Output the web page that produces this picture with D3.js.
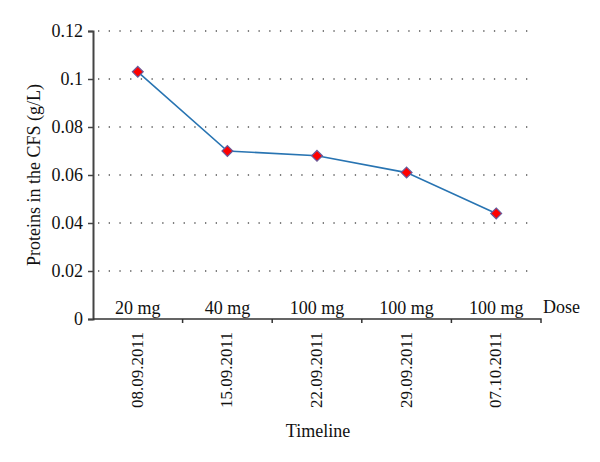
<!DOCTYPE html>
<html>
<head>
<meta charset="utf-8">
<script src="https://cdn.jsdelivr.net/npm/d3@7"></script>
<style>
  body { margin: 0; background: #fff; }
  text { font-family: "Liberation Serif", "DejaVu Serif", serif; fill: #111; }
</style>
</head>
<body>
<div id="chart"></div>
<script>
var dates = ["08.09.2011", "15.09.2011", "22.09.2011", "29.09.2011", "07.10.2011"];
var doses = ["20 mg", "40 mg", "100 mg", "100 mg", "100 mg"];
var proteins = [0.103, 0.070, 0.068, 0.061, 0.044];
var yTicks = [0, 0.02, 0.04, 0.06, 0.08, 0.1, 0.12];

var width = 600, height = 462;
var mLeft = 93, mRight = 541, mTop = 31, mBottom = 319;
var fs = 18;

var svg = d3.select("#chart").append("svg")
    .attr("width", width)
    .attr("height", height);

var x = d3.scaleBand()
    .domain(d3.range(dates.length))
    .range([mLeft, mRight]);

var y = d3.scaleLinear()
    .domain([0, 0.12])
    .range([mBottom, mTop]);

// dotted gridlines
svg.append("g")
  .selectAll("line")
  .data(yTicks.filter(d => d > 0))
  .enter().append("line")
    .attr("x1", mLeft)
    .attr("x2", 536)
    .attr("y1", d => y(d))
    .attr("y2", d => y(d))
    .attr("stroke", "#555")
    .attr("stroke-width", 1.3)
    .attr("stroke-dasharray", "1.3,9.4")
    .attr("stroke-dashoffset", -5);

// y axis
var yAxis = svg.append("g")
    .attr("transform", `translate(${mLeft},0)`)
    .call(d3.axisLeft(y).tickValues(yTicks).tickSize(5).tickPadding(5)
      .tickFormat(d => d === 0 ? "0" : String(+d.toFixed(2))));
yAxis.select(".domain").attr("stroke", "#444").attr("stroke-width", 2);
yAxis.selectAll(".tick line").attr("stroke", "#444").attr("stroke-width", 1.5);
yAxis.selectAll("text").attr("font-size", fs).attr("font-family", "Liberation Serif").attr("fill", "#111");

// x axis
svg.append("path")
    .attr("d", `M${mLeft},${mBottom}H${mRight}V${mBottom + 4}`)
    .attr("fill", "none")
    .attr("stroke", "#333")
    .attr("stroke-width", 1.5);
svg.append("g")
  .selectAll("line")
  .data(d3.range(1, dates.length))
  .enter().append("line")
    .attr("x1", d => x(d))
    .attr("x2", d => x(d))
    .attr("y1", mBottom)
    .attr("y2", mBottom + 4)
    .attr("stroke", "#333")
    .attr("stroke-width", 1.5);

// dose labels
svg.append("g")
  .selectAll("text")
  .data(doses)
  .enter().append("text")
    .attr("x", (d, i) => x(i) + x.bandwidth() / 2)
    .attr("y", mBottom - 5)
    .attr("text-anchor", "middle")
    .attr("font-size", fs)
    .text(d => d);

svg.append("text")
    .attr("x", mRight + 2)
    .attr("y", mBottom - 6)
    .attr("font-size", fs)
    .text("Dose");

// date labels
svg.append("g")
  .selectAll("text")
  .data(dates)
  .enter().append("text")
    .attr("transform", (d, i) => `translate(${x(i) + x.bandwidth() / 2 + 5},${mBottom + 13}) rotate(-90)`)
    .attr("text-anchor", "end")
    .attr("font-size", 17)
    .text(d => d);

// axis titles
svg.append("text")
    .attr("x", 318)
    .attr("y", 437)
    .attr("text-anchor", "middle")
    .attr("font-size", fs)
    .text("Timeline");

svg.append("text")
    .attr("transform", `translate(40,${(mTop + mBottom) / 2}) rotate(-90)`)
    .attr("text-anchor", "middle")
    .attr("font-size", fs)
    .text("Proteins in the CFS (g/L)");

// line
var line = d3.line()
    .x((d, i) => x(i) + x.bandwidth() / 2)
    .y(d => y(d));

svg.append("path")
    .datum(proteins)
    .attr("fill", "none")
    .attr("stroke", "#2874b2")
    .attr("stroke-width", 1.6)
    .attr("d", line);

svg.append("g")
  .selectAll("path")
  .data(proteins)
  .enter().append("path")
    .attr("transform", (d, i) => `translate(${x(i) + x.bandwidth() / 2},${y(d)})`)
    .attr("d", d3.symbol().type(d3.symbolDiamond2).size(75))
    .attr("fill", "#ff0000")
    .attr("stroke", "#6a5a9a")
    .attr("stroke-width", 1.2);
</script>
</body>
</html>
